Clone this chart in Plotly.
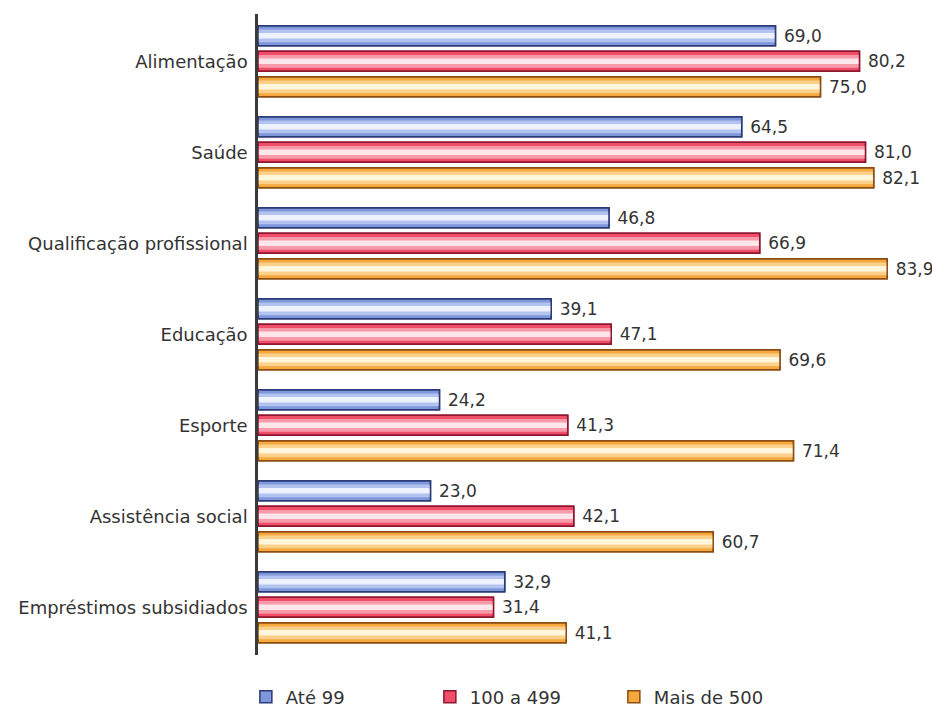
import plotly.graph_objects as go

categories = [
    "Alimentação",
    "Saúde",
    "Qualificação profissional",
    "Educação",
    "Esporte",
    "Assistência social",
    "Empréstimos subsidiados",
]
series_names = ["Até 99", "100 a 499", "Mais de 500"]
ate_99 = [69.0, 64.5, 46.8, 39.1, 24.2, 23.0, 32.9]
de_100_a_499 = [80.2, 81.0, 66.9, 47.1, 41.3, 42.1, 31.4]
mais_de_500 = [75.0, 82.1, 83.9, 69.6, 71.4, 60.7, 41.1]
series_values = [ate_99, de_100_a_499, mais_de_500]

# edge, body, mid highlight, light highlight
palettes = [
    ("#2c3a78", "#7f97db", "#b3c3ef", "#eef2ff"),
    ("#8e1630", "#ef4d68", "#f79aaa", "#ffe6ea"),
    ("#8c4c12", "#f5a83e", "#fbd08a", "#fff6dc"),
]

slot = 0.28        # distance between bar centres inside a group
bar_w = 0.22       # bar thickness in category units
centres = [-slot, 0.0, slot]

font_family = "DejaVu Sans"
text_color = "#333333"

fig = go.Figure()
for name, vals, (edge, body, mid, light), c in zip(series_names, series_values, palettes, centres):
    # body of the bar (legend entry)
    fig.add_trace(go.Bar(
        y=categories, x=vals, orientation="h", name=name,
        width=bar_w, offset=c - bar_w / 2,
        marker=dict(color=body, line=dict(color=edge, width=1.5)),
        hoverinfo="skip", legendgroup=name,
    ))
    # shaded highlight bands for a rounded look
    for w, col in ((0.14, mid), (0.06, light)):
        fig.add_trace(go.Bar(
            y=categories, x=vals, orientation="h", name=name,
            width=w, offset=c - w / 2,
            marker=dict(color=col, line=dict(width=0)),
            hoverinfo="skip", showlegend=False, legendgroup=name,
        ))
    # outline on top, carrying the value labels
    fig.add_trace(go.Bar(
        y=categories, x=vals, orientation="h", name=name,
        width=bar_w, offset=c - bar_w / 2,
        marker=dict(color="rgba(0,0,0,0)", line=dict(color=edge, width=1.5)),
        texttemplate="\u00a0%{x:.1f}", textposition="outside",
        textfont=dict(family=font_family, size=17, color=text_color),
        cliponaxis=False,
        hoverinfo="skip", showlegend=False, legendgroup=name,
    ))

fig.update_layout(
    width=932, height=708,
    margin=dict(l=258, r=0, t=14, b=53, autoexpand=False),
    paper_bgcolor="white", plot_bgcolor="white",
    barmode="overlay",
    separators=",.",
    font=dict(family=font_family, size=18, color=text_color),
    showlegend=True,
    legend=dict(
        orientation="h", x=-0.018, xanchor="left", y=-0.0655, yanchor="middle",
        entrywidth=139, traceorder="normal",
        font=dict(family=font_family, size=18, color=text_color),
    ),
    xaxis=dict(range=[0, 89.87], visible=False, fixedrange=True),
    yaxis=dict(
        range=[6.524, -0.52], showline=True, linecolor="#3a3a3a", linewidth=2.5,
        ticks="", ticklabelstandoff=4, showgrid=False, zeroline=False,
        tickfont=dict(family=font_family, size=18, color=text_color),
    ),
)

fig.write_html("out.html")
